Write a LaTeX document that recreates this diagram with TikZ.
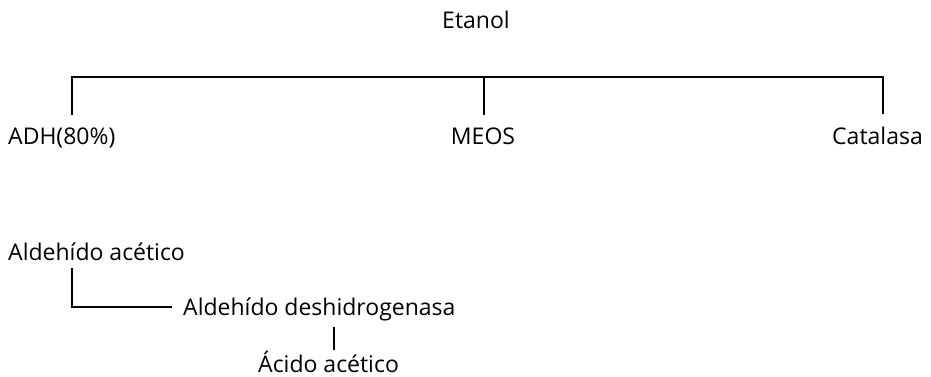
\documentclass[tikz,border=0pt]{standalone}
\usepackage{fontspec}
\setmainfont{Open Sans}
\usetikzlibrary{positioning, calc}
\tikzset{
  word/.style={inner sep=0pt, font=\fontsize{23}{27}\selectfont, text=black},
  link/.style={line width=2.5pt, black},
}
\begin{document}
\begin{tikzpicture}[x=1pt,y=-1pt]
\useasboundingbox (0,0) rectangle (931,377);
%Nodes
\node[word,anchor=base]      (etanol) at (476,29)  {Etanol};
\node[word,anchor=base west] (adh)    at (8,145)   {ADH(80\%)};
\node[word,anchor=base]      (meos)   at (483,145) {MEOS};
\node[word,anchor=base east] (cat)    at (923,145) {Catalasa};
\node[word,anchor=base west] (ald)    at (8,260)   {Aldehído acético};
\node[word,anchor=base west] (aldh)   at (183,315) {Aldehído deshidrogenasa};
\node[word,anchor=base west] (acido)  at (258,372) {Ácido acético};
%Lines
\coordinate (jadh)  at (72,77);
\coordinate (jmeos) at (484,77);
\coordinate (jcat)  at (883,77);
\coordinate (jald)  at (72,0);
\coordinate (jacid) at (334,0);
\draw[link] ($(jadh |- adh.north)+(0,-13)$) -- (jadh) -- (jcat) -- ($(jcat |- cat.north)+(0,-13)$);
\draw[link] (jmeos) -- ($(jmeos |- meos.north)+(0,-13)$);
\draw[link] ($(jald |- ald.south)+(0,8)$) |- ($(aldh.west)+(-11,-2)$);
\draw[link] ($(jacid |- aldh.south)+(0,6)$) -- (jacid |- acido.north);
\end{tikzpicture}
\end{document}
